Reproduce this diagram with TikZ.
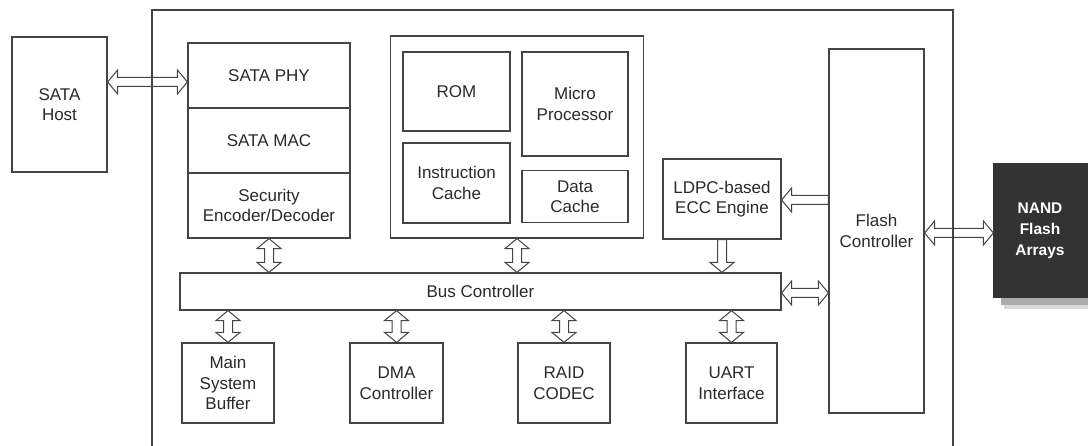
\documentclass[tikz,border=0pt]{standalone}
\usepackage{fontspec}
\setmainfont{Liberation Sans}
\usetikzlibrary{calc}
\definecolor{ln}{HTML}{444444}
\definecolor{tx}{HTML}{2A2A2A}
\definecolor{nandfill}{HTML}{333333}
\def\arL{10pt}
\def\arH{12pt}
\def\arS{4.5pt}
\newcommand{\hdarrow}[2]{\draw[arr] let \p1=(#1), \p2=(#2) in
  (\x1,\y1) -- (\x1+\arL,\y1+\arH) -- (\x1+\arL,\y1+\arS) -- (\x2-\arL,\y1+\arS) -- (\x2-\arL,\y1+\arH) -- (\x2,\y1)
  -- (\x2-\arL,\y1-\arH) -- (\x2-\arL,\y1-\arS) -- (\x1+\arL,\y1-\arS) -- (\x1+\arL,\y1-\arH) -- cycle;}
\newcommand{\hlarrow}[2]{\draw[arr] let \p1=(#1), \p2=(#2) in
  (\x1,\y1) -- (\x1+\arL,\y1+\arH) -- (\x1+\arL,\y1+\arS) -- (\x2,\y1+\arS) -- (\x2,\y1-\arS)
  -- (\x1+\arL,\y1-\arS) -- (\x1+\arL,\y1-\arH) -- cycle;}
\newcommand{\vdarrow}[2]{\draw[arr] let \p1=(#1), \p2=(#2) in
  (\x1,\y1) -- (\x1+\arH,\y1-\arL) -- (\x1+\arS,\y1-\arL) -- (\x1+\arS,\y2+\arL) -- (\x1+\arH,\y2+\arL) -- (\x1,\y2)
  -- (\x1-\arH,\y2+\arL) -- (\x1-\arS,\y2+\arL) -- (\x1-\arS,\y1-\arL) -- (\x1-\arH,\y1-\arL) -- cycle;}
\newcommand{\vsarrow}[2]{\draw[arr] let \p1=(#1), \p2=(#2) in
  (\x1-\arS,\y1) -- (\x1+\arS,\y1) -- (\x1+\arS,\y2+\arL) -- (\x1+\arH,\y2+\arL) -- (\x1,\y2)
  -- (\x1-\arH,\y2+\arL) -- (\x1-\arS,\y2+\arL) -- cycle;}
\tikzset{
  box/.style={draw=ln, line width=1.2pt, fill=white, align=center, text=tx, inner sep=0pt,
    font=\fontsize{17}{20.5}\selectfont},
  arr/.style={draw=ln, line width=1pt, fill=white, line join=miter},
}
\begin{document}
\begin{tikzpicture}[x=1pt,y=-1pt]
\useasboundingbox (0,0) rectangle (1088,446);
\clip (0,0) rectangle (1088,446);
\fill[white] (0,0) rectangle (1088,446);
% NAND shadow and box
\fill[gray!30] (1004,174) rectangle (1100,309);
\fill[gray!65] (1001,171) rectangle (1100,305);
\node[box, draw=nandfill, fill=nandfill, minimum width=110, minimum height=133] (nand) at (1049,230.5) {};
\node[text=white, align=center, font=\fontsize{15.5}{21}\selectfont\bfseries] (nandtext) at (1040,231) {NAND\\Flash\\Arrays};
% host
\node[box, minimum width=95, minimum height=135] (host) at (59.5,104.5) {SATA\\Host};
% SATA stack
\node[box, minimum width=162, minimum height=65] (phy) at (269,75.5) {SATA PHY};
\node[box, minimum width=162, minimum height=65] (mac) at (269,140.5) {SATA MAC};
\node[box, minimum width=162, minimum height=65] (sec) at (269,205.5) {Security\\Encoder/Decoder};
% processor group
\node[box, minimum width=253, minimum height=202] (cpu) at (517,137) {};
\node[box, minimum width=107, minimum height=79] (rom) at (456.5,91.5) {ROM};
\node[box, minimum width=106, minimum height=104] (mp) at (575,104) {Micro\\Processor};
\node[box, minimum width=107, minimum height=80] (ic) at (456.5,183) {Instruction\\Cache};
\node[box, minimum width=106, minimum height=52] (dc) at (575,196.5) {Data\\Cache};
% LDPC
\node[box, minimum width=118, minimum height=80] (ldpc) at (722,199) {LDPC-based\\ECC Engine};
% flash controller
\node[box, minimum width=95, minimum height=364] (flash) at (876.5,231) {Flash\\Controller};
% bus
\node[box, minimum width=601, minimum height=37] (bus) at (480.5,291.5) {Bus Controller};
% bottom boxes
\node[box, minimum width=92, minimum height=80] (msb) at (228,383) {Main\\System\\Buffer};
\node[box, minimum width=93, minimum height=80] (dma) at (396.5,383) {DMA\\Controller};
\node[box, minimum width=92, minimum height=80] (raid) at (564,383) {RAID\\CODEC};
\node[box, minimum width=91, minimum height=80] (uart) at (731.5,383) {UART\\Interface};
% arrow rows
\coordinate (yhost) at (0,82);
\coordinate (yldpc) at (0,200);
\coordinate (ynand) at (0,233);
\coordinate (ybus) at (0,293);
\hdarrow{host.east |- yhost}{phy.west |- yhost}
\hlarrow{ldpc.east |- yldpc}{flash.west |- yldpc}
\hdarrow{flash.east |- ynand}{nand.west |- ynand}
\hdarrow{bus.east |- ybus}{flash.west |- ybus}
\vdarrow{sec.south}{sec.south |- bus.north}
\vdarrow{cpu.south}{cpu.south |- bus.north}
\vsarrow{ldpc.south}{ldpc.south |- bus.north}
\vdarrow{msb.north |- bus.south}{msb.north}
\vdarrow{dma.north |- bus.south}{dma.north}
\vdarrow{raid.north |- bus.south}{raid.north}
\vdarrow{uart.north |- bus.south}{uart.north}
% outer board
\coordinate (otl) at (152,10);
\coordinate (obr) at (953,470);
\draw[draw=ln, line width=1.6pt] (otl) rectangle (obr);
\end{tikzpicture}
\end{document}
